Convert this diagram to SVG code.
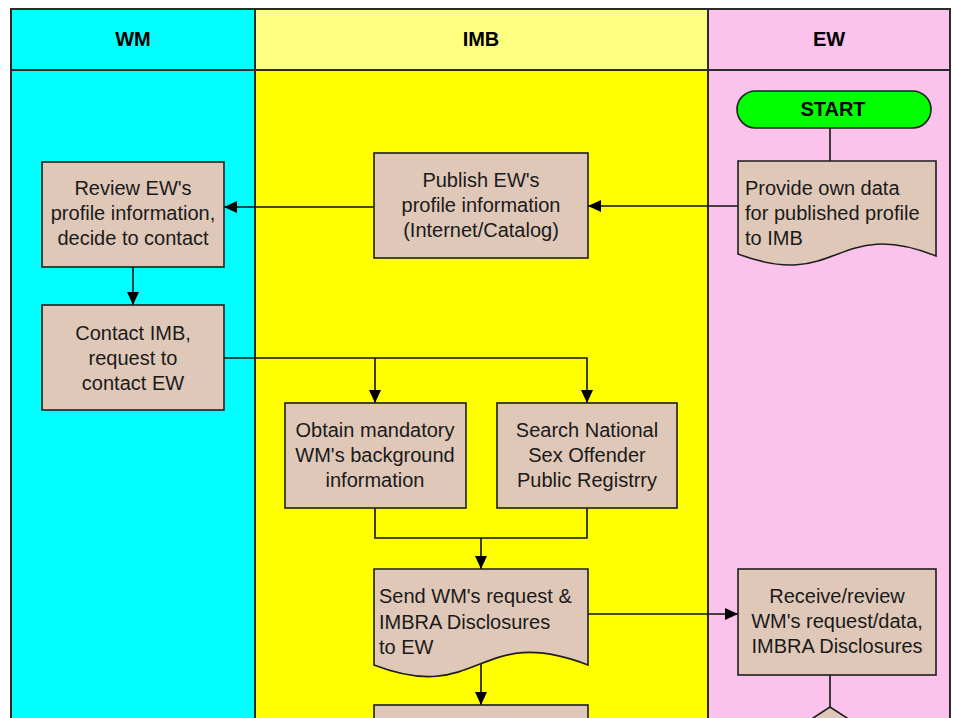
<svg xmlns="http://www.w3.org/2000/svg" width="954" height="718" viewBox="0 0 954 718">
<style>
.lane{stroke:none}
.frame{fill:none;stroke:#2b2b2b;stroke-width:2}
.hdr{font-family:"Liberation Sans",Arial,sans-serif;font-weight:bold;font-size:20px;fill:#000;text-anchor:middle}
.box{fill:#E0C8B8;stroke:#1e1e1e;stroke-width:1.6}
.term{fill:#00FF00;stroke:#1e1e1e;stroke-width:1.6}
.t{font-family:"Liberation Sans",Arial,sans-serif;font-size:20px;fill:#1a1a1a}
.c{text-anchor:middle}
.tb{font-family:"Liberation Sans",Arial,sans-serif;font-size:20px;font-weight:bold;fill:#000;text-anchor:middle}
.ln{fill:none;stroke:#111;stroke-width:1.6}
</style>
<defs>
<marker id="ah" markerUnits="userSpaceOnUse" markerWidth="14" markerHeight="14" viewBox="0 0 14 14" refX="13" refY="7" orient="auto">
<path d="M0,1 L13,7 L0,13 Z" fill="#000"/>
</marker>
</defs>
<g id="swimlanes">
<rect class="lane" x="11" y="9" width="244" height="720" fill="#00FFFF"/>
<rect class="lane" x="255" y="9" width="453" height="61" fill="#FFFF80"/>
<rect class="lane" x="255" y="70" width="453" height="660" fill="#FFFF00"/>
<rect class="lane" x="708" y="9" width="242" height="720" fill="#FBC2EC"/>
<rect class="frame" x="11" y="9" width="939" height="720"/>
<line class="frame" x1="11" y1="70" x2="950" y2="70"/>
<line class="frame" x1="255" y1="9" x2="255" y2="729"/>
<line class="frame" x1="708" y1="9" x2="708" y2="729"/>
<text class="hdr" x="133" y="46">WM</text>
<text class="hdr" x="481" y="46">IMB</text>
<text class="hdr" x="829" y="46">EW</text>
</g>
<g id="connectors">
<line class="ln" x1="830" y1="128" x2="830" y2="161"/>
<line class="ln" x1="738" y1="206" x2="588" y2="206" marker-end="url(#ah)"/>
<line class="ln" x1="374" y1="207" x2="224" y2="207" marker-end="url(#ah)"/>
<line class="ln" x1="133" y1="267" x2="133" y2="305" marker-end="url(#ah)"/>
<polyline class="ln" points="224,358 587,358 587,403" marker-end="url(#ah)"/>
<line class="ln" x1="375" y1="358" x2="375" y2="403" marker-end="url(#ah)"/>
<polyline class="ln" points="375,508 375,538 587,538 587,508"/>
<line class="ln" x1="481" y1="538" x2="481" y2="569" marker-end="url(#ah)"/>
<line class="ln" x1="588" y1="614" x2="738" y2="614" marker-end="url(#ah)"/>
<line class="ln" x1="481" y1="663" x2="481" y2="705" marker-end="url(#ah)"/>
<line class="ln" x1="830" y1="675" x2="830" y2="707"/>
</g>
<g id="start">
<rect class="term" x="737" y="91" width="194" height="37" rx="18.5" ry="18.5"/>
<text class="tb" x="833" y="116">START</text>
</g>
<g id="provide-data">
<path class="box" d="M738,161 L936,161 L936,256 C836,216 838,292 738,254 Z"/>
<text class="t" x="745" y="195">Provide own data</text>
<text class="t" x="745" y="220">for published profile</text>
<text class="t" x="745" y="245">to IMB</text>
</g>
<g id="publish">
<rect class="box" x="374" y="153" width="214" height="105"/>
<text class="t c" x="481" y="187">Publish EW's</text>
<text class="t c" x="481" y="212">profile information</text>
<text class="t c" x="481" y="237">(Internet/Catalog)</text>
</g>
<g id="review">
<rect class="box" x="42" y="162" width="182" height="105"/>
<text class="t c" x="133" y="195">Review EW's</text>
<text class="t c" x="133" y="220">profile information,</text>
<text class="t c" x="133" y="245">decide to contact</text>
</g>
<g id="contact">
<rect class="box" x="42" y="305" width="182" height="105"/>
<text class="t c" x="133" y="340">Contact IMB,</text>
<text class="t c" x="133" y="365">request to</text>
<text class="t c" x="133" y="390">contact EW</text>
</g>
<g id="obtain">
<rect class="box" x="285" y="403" width="181" height="105"/>
<text class="t c" x="375" y="437">Obtain mandatory</text>
<text class="t c" x="375" y="462">WM's background</text>
<text class="t c" x="375" y="487">information</text>
</g>
<g id="search">
<rect class="box" x="497" y="403" width="180" height="105"/>
<text class="t c" x="587" y="437">Search National</text>
<text class="t c" x="587" y="462">Sex Offender</text>
<text class="t c" x="587" y="487">Public Registrry</text>
</g>
<g id="send">
<path class="box" d="M374,569 L588,569 L588,665 C478,622 480,706 374,665 Z"/>
<text class="t" x="379" y="603">Send WM's request &amp;</text>
<text class="t" x="379" y="629">IMBRA Disclosures</text>
<text class="t" x="379" y="654">to EW</text>
</g>
<g id="receive">
<rect class="box" x="738" y="569" width="198" height="106"/>
<text class="t c" x="837" y="603">Receive/review</text>
<text class="t c" x="837" y="628">WM's request/data,</text>
<text class="t c" x="837" y="653">IMBRA Disclosures</text>
</g>
<g id="next-step">
<rect class="box" x="374" y="705" width="214" height="105"/>
</g>
<g id="decision">
<path class="box" d="M830,707 L930,772 L830,837 L730,772 Z"/>
</g>
</svg>
